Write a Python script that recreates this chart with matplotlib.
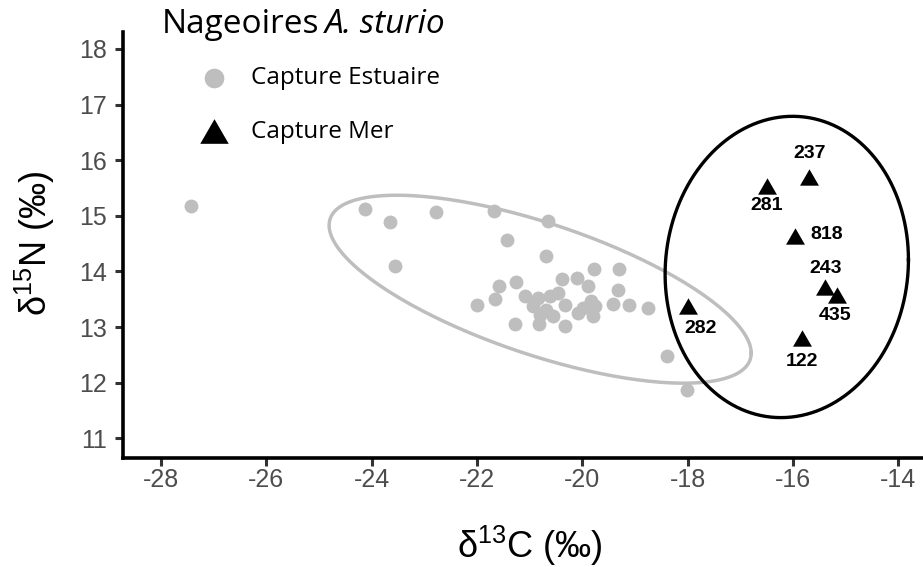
import numpy as np
import matplotlib
matplotlib.use("Agg")
import matplotlib.pyplot as plt

plt.rcParams["axes.unicode_minus"] = False

# --- data ---
# estuary catches : delta13C, delta15N
estuaire_c = [-27.43, -24.12, -23.65, -22.78, -21.67, -20.65, -21.42, -23.55,
              -20.68, -19.78, -19.31, -19.32, -20.11, -20.39, -19.89, -21.58,
              -21.26, -21.66, -22.00, -21.08, -20.85, -20.93, -20.61, -20.46,
              -20.33, -20.68, -20.80, -20.55, -20.82, -21.27, -20.32, -20.08,
              -19.98, -19.84, -19.76, -19.79, -19.41, -19.12, -18.75, -18.40,
              -18.02]
estuaire_n = [15.18, 15.12, 14.89, 15.06, 15.09, 14.91, 14.57, 14.10,
              14.28, 14.04, 14.04, 13.67, 13.89, 13.86, 13.74, 13.74,
              13.81, 13.50, 13.39, 13.55, 13.52, 13.37, 13.55, 13.61,
              13.40, 13.31, 13.22, 13.19, 13.05, 13.05, 13.02, 13.25,
              13.34, 13.46, 13.37, 13.20, 13.41, 13.40, 13.34, 12.47,
              11.87]

# sea catches
mer_id = ["237", "281", "818", "243", "435", "122", "282"]
mer_c = [-15.69, -16.50, -15.96, -15.39, -15.17, -15.84, -17.99]
mer_n = [15.69, 15.54, 14.64, 13.72, 13.58, 12.81, 13.38]
# label offsets (points) as placed in the figure
mer_dx = [0, 0, 23, 0, -1, 0, 9]
mer_dy = [17, -14.5, 1, 13.5, -15, -17, -16]

# 95% ellipses (centre, shape matrix in data units)
ell_estuaire_centre = [-20.8, 13.68]
ell_estuaire_shape = [[16.04, -4.6], [-4.6, 2.856]]
ell_mer_centre = [-16.12, 14.08]
ell_mer_shape = [[5.33, 0.3], [0.3, 7.34]]

gris = "#BEBEBE"


def draw_ellipse(ax, centre, shape, **kw):
    t = np.linspace(0, 2 * np.pi, 300)
    L = np.linalg.cholesky(np.array(shape))
    pts = np.array(centre)[:, None] + L @ np.vstack([np.cos(t), np.sin(t)])
    ax.plot(pts[0], pts[1], **kw)


# triangle like ggplot shape 17 (wider than tall)
tri = [(-1.155, -1), (1.155, -1), (0, 1)]

fig = plt.figure(figsize=(9.23, 5.67), dpi=100)
ax = fig.add_axes([0.1336, 0.1922, 0.8664, 0.7519])

draw_ellipse(ax, ell_estuaire_centre, ell_estuaire_shape, color=gris, lw=2.5, zorder=1)
draw_ellipse(ax, ell_mer_centre, ell_mer_shape, color="black", lw=2.4, zorder=1)

h1 = ax.scatter(estuaire_c, estuaire_n, s=100, color=gris, linewidths=0, zorder=2)
h2 = ax.scatter(mer_c, mer_n, s=185, marker=tri, color="black", linewidths=0, zorder=3)

for lbl, x, y, dx, dy in zip(mer_id, mer_c, mer_n, mer_dx, mer_dy):
    ax.annotate(lbl, (x, y), xytext=(dx, dy), textcoords="offset points",
                ha="center", va="center", fontsize=14, fontweight="bold",
                family="Liberation Sans", zorder=4)

ax.set_xlim(-28.71, -13.535)
ax.set_ylim(10.644, 18.311)
ax.set_xticks(np.arange(-28, -13, 2))
ax.set_yticks(np.arange(11, 19, 1))

for s in ["top", "right"]:
    ax.spines[s].set_visible(False)
for s in ["left", "bottom"]:
    ax.spines[s].set_linewidth(2.6)
    ax.spines[s].set_color("black")

ax.tick_params(axis="both", length=6, width=2.2, color="#333333",
               labelcolor="#4D4D4D", labelsize=18)
ax.tick_params(axis="x", pad=1)
ax.tick_params(axis="y", pad=6)
for t in ax.get_xticklabels() + ax.get_yticklabels():
    t.set_family("Liberation Sans")

ax.set_xlabel(r"δ$^{\mathregular{13}}$C (‰)", fontsize=26, family="Liberation Sans")
ax.set_ylabel(r"δ$^{\mathregular{15}}$N (‰)", fontsize=26, family="Liberation Sans")
ax.xaxis.set_label_coords(0.5086, -0.205)
ax.xaxis.label.set_va("center")
ax.yaxis.set_label_coords(-0.1104, 0.5043)
ax.yaxis.label.set_va("center")

# title: regular + italic species name
t1 = fig.text(0.1752, 0.9425, "Nageoires", fontsize=24, family="Open Sans", va="baseline")
fig.canvas.draw()
bb = t1.get_window_extent()
fig.text((bb.x1 + 6) / fig.bbox.width, 0.9425, "A. sturio", fontsize=24,
         family="Open Sans", style="italic", va="baseline")

leg = ax.legend([h1, h2], ["Capture Estuaire", "Capture Mer"],
                loc="upper left", bbox_to_anchor=(203.5 / 923, 1 - 66.5 / 567),
                bbox_transform=fig.transFigure, frameon=False, borderpad=0,
                borderaxespad=0, handlelength=0.9, handletextpad=1.05,
                labelspacing=1.2, prop={"family": "Open Sans", "size": 17.5})
leg.legend_handles[0].set_sizes([200])
leg.legend_handles[1].set_sizes([420])

fig.savefig("out.png", dpi=100)
